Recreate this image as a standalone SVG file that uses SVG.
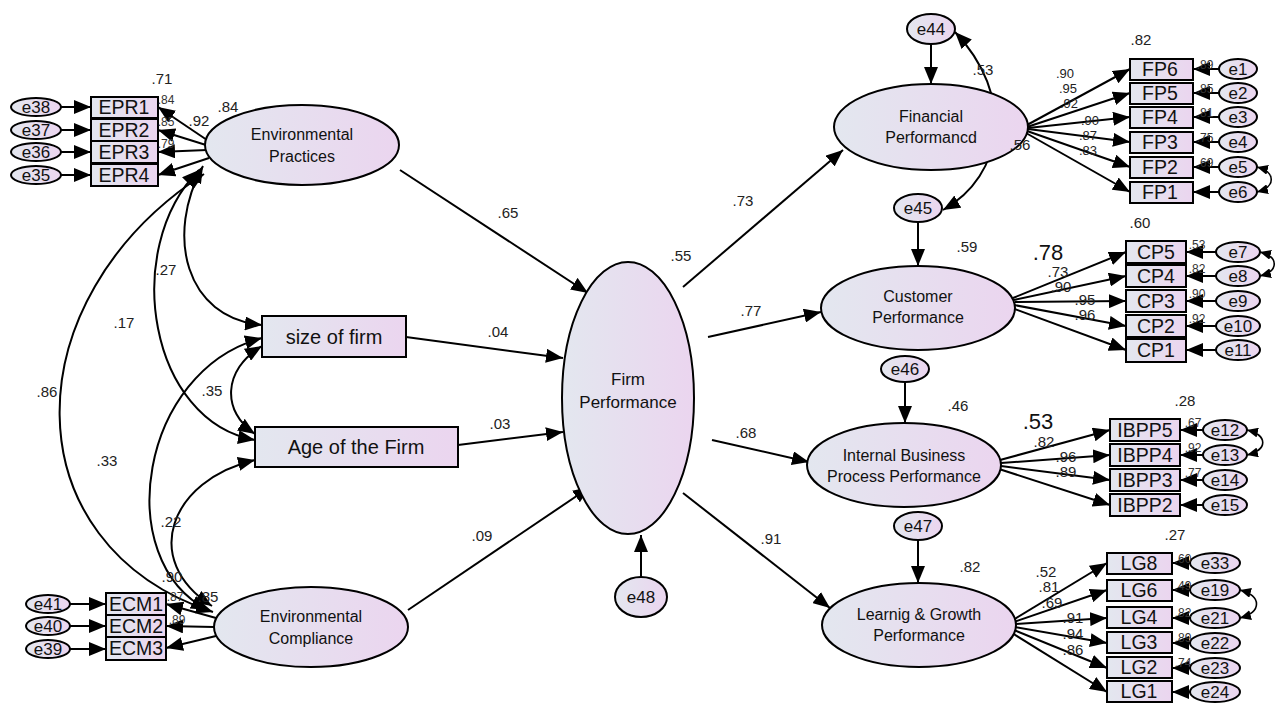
<svg xmlns="http://www.w3.org/2000/svg" width="1278" height="703" viewBox="0 0 1278 703">
<defs>
<linearGradient id="g" x1="0" y1="0" x2="1" y2="0">
<stop offset="0" stop-color="#e3e7ef"/>
<stop offset="1" stop-color="#ebd5ef"/>
</linearGradient>
<marker id="a" markerUnits="userSpaceOnUse" markerWidth="18" markerHeight="14" refX="17" refY="7" orient="auto-start-reverse">
<path d="M0,0 L17,7 L0,14 z" fill="#000"/>
</marker>
<marker id="s" markerUnits="userSpaceOnUse" markerWidth="12" markerHeight="10" refX="11" refY="5" orient="auto-start-reverse">
<path d="M0,0 L11,5 L0,10 z" fill="#000"/>
</marker>
</defs>
<style>
.n{fill:url(#g);stroke:#000;stroke-width:2}
.t{font-family:"Liberation Sans",Arial,sans-serif;fill:#111;text-anchor:middle}
.lat{font-size:16px}
.box{font-size:19.5px}
.err{font-size:17px}
.num{font-family:"Liberation Sans",Arial,sans-serif;font-size:15px;fill:#222;text-anchor:middle}
.fan{font-family:"Liberation Sans",Arial,sans-serif;font-size:13px;fill:#222;text-anchor:middle}
.sm{font-family:"Liberation Sans",Arial,sans-serif;font-size:12px;fill:#333;text-anchor:middle}
.c line,.c path{stroke:#000;stroke-width:2;fill:none;marker-end:url(#a)}
.c .d{marker-start:url(#a)}
.c .f{stroke-width:1.6;marker-start:url(#s);marker-end:url(#s)}
</style>

<g id="connectors" class="c">
<line x1="207" y1="140" x2="158" y2="107"/>
<line x1="206" y1="145" x2="158" y2="130"/>
<line x1="207" y1="150" x2="158" y2="152"/>
<line x1="209" y1="158" x2="158" y2="175"/>
<line x1="61" y1="107" x2="91" y2="107"/>
<line x1="61" y1="130" x2="91" y2="130"/>
<line x1="61" y1="152" x2="91" y2="152"/>
<line x1="61" y1="175" x2="91" y2="175"/>
<line x1="216" y1="618" x2="166" y2="604"/>
<line x1="214" y1="627" x2="166" y2="626"/>
<line x1="216" y1="636" x2="166" y2="648"/>
<line x1="70" y1="604" x2="106" y2="604"/>
<line x1="70" y1="626" x2="106" y2="626"/>
<line x1="70" y1="649" x2="106" y2="649"/>
<path class="d" d="M203,166 C165,235 185,318 262,325"/>
<path class="d" d="M199,170 C120,250 150,422 255,440"/>
<path class="d" d="M204,174 C10,300 10,545 213,612"/>
<path class="d" d="M262,346 C222,370 222,412 255,434"/>
<path class="d" d="M262,338 C140,370 110,560 208,610"/>
<path class="d" d="M255,460 C170,480 140,560 212,606"/>
<line x1="400" y1="170" x2="588" y2="293"/>
<line x1="406" y1="337" x2="563" y2="358"/>
<line x1="458" y1="445" x2="563" y2="432"/>
<line x1="408" y1="610" x2="590" y2="487"/>
<line x1="641" y1="577" x2="641" y2="535"/>
<line x1="683" y1="287" x2="843" y2="150"/>
<line x1="708" y1="337" x2="821" y2="312"/>
<line x1="712" y1="440" x2="809" y2="462"/>
<line x1="683" y1="493" x2="830" y2="608"/>
<line x1="931" y1="45" x2="931" y2="84"/>
<line x1="918" y1="222" x2="918" y2="266"/>
<line x1="905" y1="382" x2="905" y2="423"/>
<line x1="918" y1="540" x2="918" y2="583"/>
<path class="d" d="M955,32 C1015,95 1005,175 943,210"/>
<line x1="1027" y1="125" x2="1130" y2="69"/>
<line x1="1027" y1="127" x2="1130" y2="93"/>
<line x1="1028" y1="128" x2="1130" y2="117"/>
<line x1="1028" y1="129" x2="1130" y2="142"/>
<line x1="1027" y1="131" x2="1130" y2="167"/>
<line x1="1026" y1="133" x2="1130" y2="192"/>
<line x1="1219" y1="69" x2="1193" y2="69"/>
<line x1="1219" y1="93" x2="1193" y2="93"/>
<line x1="1219" y1="117" x2="1193" y2="117"/>
<line x1="1219" y1="142" x2="1193" y2="142"/>
<line x1="1219" y1="167" x2="1193" y2="167"/>
<line x1="1219" y1="192" x2="1193" y2="192"/>
<path class="f" d="M1257,167 C1276,172 1276,187 1257,192"/>
<line x1="1013" y1="298" x2="1126" y2="252"/>
<line x1="1014" y1="300" x2="1126" y2="276"/>
<line x1="1015" y1="302" x2="1126" y2="301"/>
<line x1="1014" y1="305" x2="1126" y2="326"/>
<line x1="1012" y1="308" x2="1126" y2="350"/>
<line x1="1216" y1="252" x2="1186" y2="252"/>
<line x1="1216" y1="276" x2="1186" y2="276"/>
<line x1="1216" y1="301" x2="1186" y2="301"/>
<line x1="1216" y1="326" x2="1186" y2="326"/>
<line x1="1216" y1="350" x2="1186" y2="350"/>
<path class="f" d="M1260,252 C1279,257 1279,271 1260,276"/>
<line x1="1000" y1="460" x2="1110" y2="430"/>
<line x1="1001" y1="463" x2="1110" y2="455"/>
<line x1="1001" y1="466" x2="1110" y2="480"/>
<line x1="999" y1="469" x2="1110" y2="505"/>
<line x1="1203" y1="430" x2="1180" y2="430"/>
<line x1="1203" y1="455" x2="1180" y2="455"/>
<line x1="1203" y1="480" x2="1180" y2="480"/>
<line x1="1203" y1="505" x2="1180" y2="505"/>
<path class="f" d="M1247,430 C1268,435 1268,450 1247,455"/>
<line x1="1013" y1="620" x2="1107" y2="563"/>
<line x1="1014" y1="622" x2="1107" y2="590"/>
<line x1="1015" y1="624" x2="1107" y2="618"/>
<line x1="1015" y1="627" x2="1107" y2="643"/>
<line x1="1014" y1="630" x2="1107" y2="668"/>
<line x1="1012" y1="633" x2="1107" y2="692"/>
<line x1="1190" y1="563" x2="1172" y2="563"/>
<line x1="1190" y1="590" x2="1172" y2="590"/>
<line x1="1190" y1="618" x2="1172" y2="618"/>
<line x1="1190" y1="643" x2="1172" y2="643"/>
<line x1="1190" y1="668" x2="1172" y2="668"/>
<line x1="1190" y1="692" x2="1172" y2="692"/>
<path class="f" d="M1240,590 C1262,596 1262,612 1240,618"/>
</g>

<g id="env-practices"><ellipse class="n" cx="302" cy="145" rx="97" ry="40"/><text class="t lat" x="302" y="140">Environmental</text><text class="t lat" x="302" y="162">Practices</text></g>
<g id="size-firm"><rect class="n" x="262" y="316" width="144" height="41"/><text class="t" style="font-size:20px" x="334" y="344">size of firm</text></g>
<g id="age-firm"><rect class="n" x="255" y="427" width="203" height="40"/><text class="t" style="font-size:20px" x="356" y="454">Age of the Firm</text></g>
<g id="env-compliance"><ellipse class="n" cx="311" cy="627" rx="97" ry="40"/><text class="t lat" x="311" y="622">Environmental</text><text class="t lat" x="311" y="644">Compliance</text></g>
<g id="firm-performance"><ellipse class="n" cx="628" cy="398" rx="66" ry="136"/><text class="t" style="font-size:17px" x="628" y="385">Firm</text><text class="t" style="font-size:17px" x="628" y="408">Performance</text></g>
<g id="e48"><ellipse class="n" cx="641" cy="597" rx="26" ry="20"/><text class="t err" x="641" y="603">e48</text></g>
<g id="financial"><ellipse class="n" cx="931" cy="127" rx="97" ry="43"/><text class="t lat" x="931" y="122">Financial</text><text class="t lat" x="931" y="143">Performancd</text></g>
<g id="customer"><ellipse class="n" cx="918" cy="308" rx="97" ry="42"/><text class="t lat" x="918" y="302">Customer</text><text class="t lat" x="918" y="323">Performance</text></g>
<g id="ibpp"><ellipse class="n" cx="904" cy="465" rx="97" ry="42"/><text class="t lat" x="904" y="461">Internal Business</text><text class="t lat" x="904" y="482">Process Performance</text></g>
<g id="lg"><ellipse class="n" cx="919" cy="625" rx="97" ry="42"/><text class="t lat" x="919" y="620">Learnig &amp; Growth</text><text class="t lat" x="919" y="641">Performance</text></g>
<g id="e44"><ellipse class="n" cx="931" cy="29" rx="24" ry="15"/><text class="t err" x="931" y="35">e44</text></g>
<g id="e45"><ellipse class="n" cx="918" cy="208" rx="24" ry="14"/><text class="t err" x="918" y="214">e45</text></g>
<g id="e46"><ellipse class="n" cx="905" cy="369" rx="24" ry="13"/><text class="t err" x="905" y="375">e46</text></g>
<g id="e47"><ellipse class="n" cx="918" cy="526" rx="24" ry="14"/><text class="t err" x="918" y="532">e47</text></g>

<g id="EPR1"><rect class="n" x="91" y="97" width="67" height="21"/><text class="t box" x="124" y="114">EPR1</text></g>
<g id="EPR2"><rect class="n" x="91" y="119" width="67" height="22"/><text class="t box" x="124" y="137">EPR2</text></g>
<g id="EPR3"><rect class="n" x="91" y="141" width="67" height="22"/><text class="t box" x="124" y="159">EPR3</text></g>
<g id="EPR4"><rect class="n" x="91" y="164" width="67" height="22"/><text class="t box" x="124" y="182">EPR4</text></g>
<g id="e38"><ellipse class="n" cx="36" cy="107" rx="25" ry="9"/><text class="t err" x="36" y="113">e38</text></g>
<g id="e37"><ellipse class="n" cx="36" cy="130" rx="25" ry="9"/><text class="t err" x="36" y="136">e37</text></g>
<g id="e36"><ellipse class="n" cx="36" cy="152" rx="25" ry="9"/><text class="t err" x="36" y="158">e36</text></g>
<g id="e35"><ellipse class="n" cx="36" cy="175" rx="25" ry="9"/><text class="t err" x="36" y="181">e35</text></g>

<g id="ECM1"><rect class="n" x="106" y="593" width="60" height="22"/><text class="t box" x="136" y="611">ECM1</text></g>
<g id="ECM2"><rect class="n" x="106" y="615" width="60" height="22"/><text class="t box" x="136" y="633">ECM2</text></g>
<g id="ECM3"><rect class="n" x="106" y="637" width="60" height="23"/><text class="t box" x="136" y="655">ECM3</text></g>
<g id="e41"><ellipse class="n" cx="48" cy="604" rx="22" ry="9"/><text class="t err" x="48" y="610">e41</text></g>
<g id="e40"><ellipse class="n" cx="48" cy="626" rx="22" ry="9"/><text class="t err" x="48" y="632">e40</text></g>
<g id="e39"><ellipse class="n" cx="48" cy="649" rx="22" ry="9"/><text class="t err" x="48" y="655">e39</text></g>

<g id="FP6"><rect class="n" x="1130" y="59" width="63" height="21"/><text class="t box" x="1160" y="76">FP6</text></g>
<g id="FP5"><rect class="n" x="1130" y="83" width="63" height="21"/><text class="t box" x="1160" y="100">FP5</text></g>
<g id="FP4"><rect class="n" x="1130" y="107" width="63" height="21"/><text class="t box" x="1160" y="124">FP4</text></g>
<g id="FP3"><rect class="n" x="1130" y="132" width="63" height="21"/><text class="t box" x="1160" y="149">FP3</text></g>
<g id="FP2"><rect class="n" x="1130" y="157" width="63" height="21"/><text class="t box" x="1160" y="174">FP2</text></g>
<g id="FP1"><rect class="n" x="1130" y="182" width="63" height="21"/><text class="t box" x="1160" y="199">FP1</text></g>
<g id="e1"><ellipse class="n" cx="1238" cy="69" rx="19" ry="10"/><text class="t err" x="1238" y="75">e1</text></g>
<g id="e2"><ellipse class="n" cx="1238" cy="93" rx="19" ry="10"/><text class="t err" x="1238" y="99">e2</text></g>
<g id="e3"><ellipse class="n" cx="1238" cy="117" rx="19" ry="10"/><text class="t err" x="1238" y="123">e3</text></g>
<g id="e4"><ellipse class="n" cx="1238" cy="142" rx="19" ry="10"/><text class="t err" x="1238" y="148">e4</text></g>
<g id="e5"><ellipse class="n" cx="1238" cy="167" rx="19" ry="10"/><text class="t err" x="1238" y="173">e5</text></g>
<g id="e6"><ellipse class="n" cx="1238" cy="192" rx="19" ry="10"/><text class="t err" x="1238" y="198">e6</text></g>

<g id="CP5"><rect class="n" x="1126" y="241" width="60" height="22"/><text class="t box" x="1156" y="259">CP5</text></g>
<g id="CP4"><rect class="n" x="1126" y="265" width="60" height="22"/><text class="t box" x="1156" y="283">CP4</text></g>
<g id="CP3"><rect class="n" x="1126" y="290" width="60" height="22"/><text class="t box" x="1156" y="308">CP3</text></g>
<g id="CP2"><rect class="n" x="1126" y="315" width="60" height="22"/><text class="t box" x="1156" y="333">CP2</text></g>
<g id="CP1"><rect class="n" x="1126" y="339" width="60" height="23"/><text class="t box" x="1156" y="357">CP1</text></g>
<g id="e7"><ellipse class="n" cx="1238" cy="252" rx="22" ry="10"/><text class="t err" x="1238" y="258">e7</text></g>
<g id="e8"><ellipse class="n" cx="1238" cy="276" rx="22" ry="10"/><text class="t err" x="1238" y="282">e8</text></g>
<g id="e9"><ellipse class="n" cx="1238" cy="301" rx="22" ry="10"/><text class="t err" x="1238" y="307">e9</text></g>
<g id="e10"><ellipse class="n" cx="1238" cy="326" rx="22" ry="10"/><text class="t err" x="1238" y="332">e10</text></g>
<g id="e11"><ellipse class="n" cx="1238" cy="350" rx="22" ry="10"/><text class="t err" x="1238" y="356">e11</text></g>

<g id="IBPP5"><rect class="n" x="1110" y="419" width="70" height="22"/><text class="t box" x="1145" y="437">IBPP5</text></g>
<g id="IBPP4"><rect class="n" x="1110" y="444" width="70" height="22"/><text class="t box" x="1145" y="462">IBPP4</text></g>
<g id="IBPP3"><rect class="n" x="1110" y="469" width="70" height="22"/><text class="t box" x="1145" y="487">IBPP3</text></g>
<g id="IBPP2"><rect class="n" x="1110" y="494" width="70" height="22"/><text class="t box" x="1145" y="512">IBPP2</text></g>
<g id="e12"><ellipse class="n" cx="1225" cy="430" rx="22" ry="10"/><text class="t err" x="1225" y="436">e12</text></g>
<g id="e13"><ellipse class="n" cx="1225" cy="455" rx="22" ry="10"/><text class="t err" x="1225" y="461">e13</text></g>
<g id="e14"><ellipse class="n" cx="1225" cy="480" rx="22" ry="10"/><text class="t err" x="1225" y="486">e14</text></g>
<g id="e15"><ellipse class="n" cx="1225" cy="505" rx="22" ry="10"/><text class="t err" x="1225" y="511">e15</text></g>

<g id="LG8"><rect class="n" x="1107" y="553" width="65" height="21"/><text class="t box" x="1139" y="570">LG8</text></g>
<g id="LG6"><rect class="n" x="1107" y="580" width="65" height="21"/><text class="t box" x="1139" y="597">LG6</text></g>
<g id="LG4"><rect class="n" x="1107" y="607" width="65" height="21"/><text class="t box" x="1139" y="624">LG4</text></g>
<g id="LG3"><rect class="n" x="1107" y="632" width="65" height="21"/><text class="t box" x="1139" y="649">LG3</text></g>
<g id="LG2"><rect class="n" x="1107" y="657" width="65" height="21"/><text class="t box" x="1139" y="674">LG2</text></g>
<g id="LG1"><rect class="n" x="1107" y="681" width="65" height="21"/><text class="t box" x="1139" y="698">LG1</text></g>
<g id="e33"><ellipse class="n" cx="1215" cy="563" rx="25" ry="10"/><text class="t err" x="1215" y="569">e33</text></g>
<g id="e19"><ellipse class="n" cx="1215" cy="590" rx="25" ry="10"/><text class="t err" x="1215" y="596">e19</text></g>
<g id="e21"><ellipse class="n" cx="1215" cy="618" rx="25" ry="10"/><text class="t err" x="1215" y="624">e21</text></g>
<g id="e22"><ellipse class="n" cx="1215" cy="643" rx="25" ry="10"/><text class="t err" x="1215" y="649">e22</text></g>
<g id="e23"><ellipse class="n" cx="1215" cy="668" rx="25" ry="10"/><text class="t err" x="1215" y="674">e23</text></g>
<g id="e24"><ellipse class="n" cx="1215" cy="692" rx="25" ry="10"/><text class="t err" x="1215" y="698">e24</text></g>

<g id="labels">
<text class="num" x="162" y="84">.71</text>
<text class="sm" x="166" y="104">.84</text>
<text class="sm" x="166" y="126">.85</text>
<text class="sm" x="166" y="148">.79</text>
<text class="num" x="228" y="112">.84</text>
<text class="num" x="199" y="126">.92</text>
<text class="num" x="166" y="275">.27</text>
<text class="num" x="124" y="328">.17</text>
<text class="num" x="47" y="397">.86</text>
<text class="num" x="212" y="396">.35</text>
<text class="num" x="107" y="466">.33</text>
<text class="num" x="171" y="527">.22</text>
<text class="num" x="172" y="582">.90</text>
<text class="sm" x="175" y="601">.87</text>
<text class="num" x="208" y="602">.85</text>
<text class="sm" x="177" y="624">.89</text>
<text class="num" x="508" y="218">.65</text>
<text class="num" x="498" y="337">.04</text>
<text class="num" x="500" y="429">.03</text>
<text class="num" x="482" y="541">.09</text>
<text class="num" x="681" y="261">.55</text>
<text class="num" x="743" y="206">.73</text>
<text class="num" x="751" y="316">.77</text>
<text class="num" x="746" y="438">.68</text>
<text class="num" x="771" y="544">.91</text>
<text class="num" x="983" y="75">.53</text>
<text class="num" x="1020" y="150">.56</text>
<text class="num" x="967" y="252">.59</text>
<text class="num" x="958" y="411">.46</text>
<text class="num" x="970" y="572">.82</text>
<text class="num" x="1141" y="45">.82</text>
<text class="fan" x="1065" y="78">.90</text>
<text class="fan" x="1068" y="93">.95</text>
<text class="fan" x="1069" y="108">.92</text>
<text class="fan" x="1090" y="125">.90</text>
<text class="fan" x="1088" y="140">.87</text>
<text class="fan" x="1088" y="155">.83</text>
<text class="sm" x="1205" y="69">.89</text>
<text class="sm" x="1205" y="93">.85</text>
<text class="sm" x="1205" y="117">.81</text>
<text class="sm" x="1205" y="142">.75</text>
<text class="sm" x="1205" y="167">.69</text>
<text class="num" x="1140" y="228">.60</text>
<text class="t" style="font-size:22px" x="1048" y="260">.78</text>
<text class="num" x="1058" y="277">.73</text>
<text class="num" x="1061" y="292">.90</text>
<text class="num" x="1085" y="305">.95</text>
<text class="num" x="1085" y="320">.96</text>
<text class="sm" x="1197" y="249">.53</text>
<text class="sm" x="1197" y="273">.82</text>
<text class="sm" x="1197" y="298">.90</text>
<text class="sm" x="1197" y="323">.92</text>
<text class="num" x="1185" y="406">.28</text>
<text class="t" style="font-size:22px" x="1038" y="429">.53</text>
<text class="num" x="1044" y="447">.82</text>
<text class="num" x="1066" y="462">.96</text>
<text class="num" x="1066" y="477">.89</text>
<text class="sm" x="1193" y="427">.67</text>
<text class="sm" x="1193" y="452">.92</text>
<text class="sm" x="1193" y="477">.77</text>
<text class="num" x="1175" y="540">.27</text>
<text class="num" x="1046" y="577">.52</text>
<text class="num" x="1049" y="592">.81</text>
<text class="num" x="1052" y="608">.69</text>
<text class="num" x="1073" y="623">.91</text>
<text class="num" x="1073" y="639">.94</text>
<text class="num" x="1073" y="655">.86</text>
<text class="sm" x="1183" y="563">.60</text>
<text class="sm" x="1183" y="590">.49</text>
<text class="sm" x="1183" y="617">.82</text>
<text class="sm" x="1183" y="642">.89</text>
<text class="sm" x="1183" y="667">.74</text>
</g>
</svg>
